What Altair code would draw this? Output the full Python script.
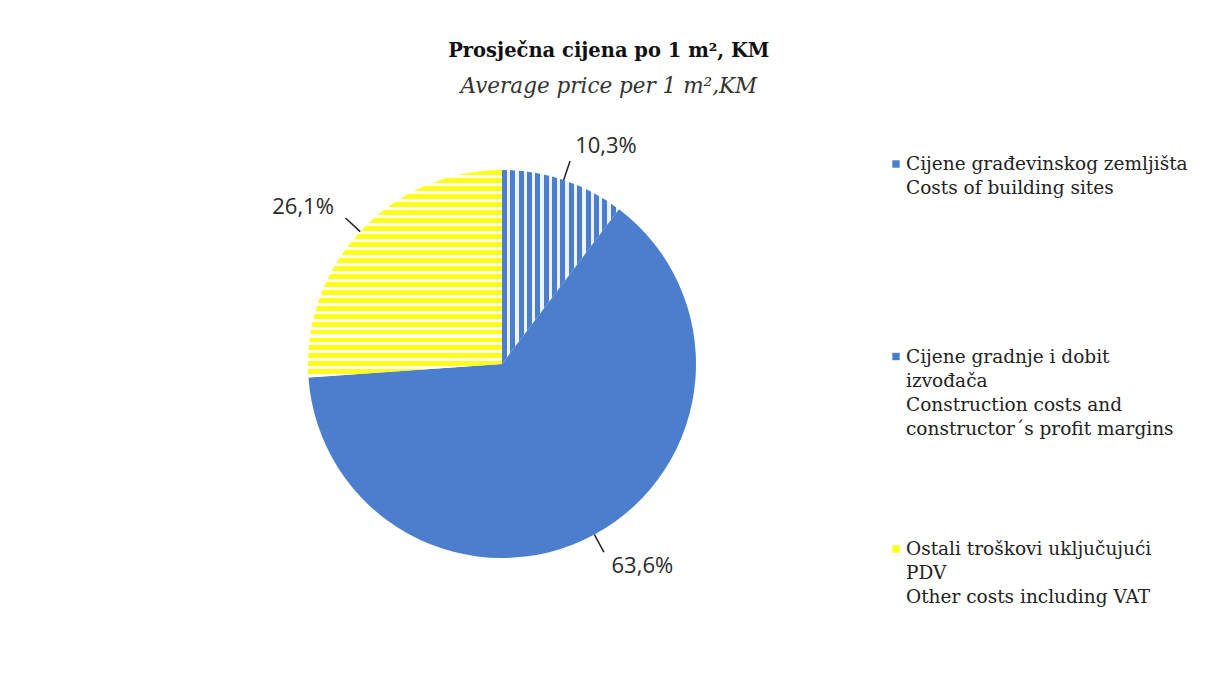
import altair as alt
import pandas as pd

# ---- data ----
categories = [
    "Cijene građevinskog zemljišta",
    "Cijene gradnje i dobit izvođača",
    "Ostali troškovi uključujući PDV",
]
legend_labels = [
    "Cijene građevinskog zemljišta\nCosts of building sites",
    "Cijene gradnje i dobit\nizvođača\nConstruction costs and\nconstructor´s profit margins",
    "Ostali troškovi uključujući\nPDV\nOther costs including VAT",
]
shares = [10.3, 63.6, 26.1]
share_labels = ["10,3%", "63,6%", "26,1%"]

df = pd.DataFrame({
    "idx": list(range(len(categories))),
    "cat": categories,
    "value": shares,
    "label": share_labels,
    "legend": legend_labels,
})

BLUE = "#4b7fcd"
YELLOW = "#ffff1a"


def stripes(c1, c2, n, frac, vertical):
    stops = []
    for i in range(n):
        a = i / n
        b = (i + frac) / n
        c = (i + 1) / n
        stops += [
            alt.GradientStop(offset=a, color=c1),
            alt.GradientStop(offset=b, color=c1),
            alt.GradientStop(offset=b, color=c2),
            alt.GradientStop(offset=c, color=c2),
        ]
    if vertical:
        return alt.LinearGradient(gradient="linear", stops=stops, x1=0, y1=0, x2=0, y2=1)
    return alt.LinearGradient(gradient="linear", stops=stops, x1=0, y1=0, x2=1, y2=0)


fills = [
    stripes(BLUE, "#eef3fb", 14, 0.6, False),
    BLUE,
    stripes(YELLOW, "#fffff2", 26, 0.62, True),
]

theta_scale = alt.Scale(domain=[0, 100])

base = alt.Chart(df).transform_window(
    cum="sum(value)", sort=[alt.SortField("idx")], frame=[None, 0]
).transform_calculate(
    start="datum.cum - datum.value",
    mid="datum.cum - datum.value / 2",
)

slices = [
    base.transform_filter(f"datum.idx == {i}")
    .mark_arc(outerRadius=194, fill=f)
    .encode(
        theta=alt.Theta("start:Q", scale=theta_scale, stack=None),
        theta2=alt.Theta2("cum:Q"),
    )
    for i, f in enumerate(fills)
]

leaders = base.mark_arc(
    radius=214, radius2=194, stroke="#222222", strokeWidth=1.5, fillOpacity=0
).encode(
    theta=alt.Theta("mid:Q", scale=theta_scale, stack=None),
    theta2=alt.Theta2("mid:Q"),
)

pct_text = base.mark_text(
    radius=230,
    font="Open Sans",
    fontSize=22,
    color="#2a2a2a",
    baseline="middle",
    align=alt.expr("datum.mid < 50 ? 'left' : 'right'"),
).encode(
    theta=alt.Theta("mid:Q", scale=theta_scale, stack=None),
    text="label:N",
)

ypos = alt.Y(
    "cat:N",
    scale=alt.Scale(type="point", domain=categories, range=[63, 448], padding=0),
    axis=None,
)

legend_sq = alt.Chart(df).mark_square(size=55, opacity=1).encode(
    x=alt.value(882),
    y=ypos,
    color=alt.Color(
        "cat:N",
        scale=alt.Scale(domain=categories, range=[BLUE, BLUE, YELLOW]),
        legend=None,
    ),
)

legend_text = alt.Chart(df).mark_text(
    align="left",
    baseline="alphabetic",
    dy=6,
    lineBreak="\n",
    font="DejaVu Serif",
    fontSize=18.5,
    lineHeight=24,
    color="#222222",
).encode(
    x=alt.value(892),
    y=ypos,
    text="legend:N",
)

chart = alt.layer(*slices, leaders, pct_text, legend_sq, legend_text).properties(
    width=976,
    height=526,
    padding={"left": 6, "top": 33, "right": 5, "bottom": 5},
    title=alt.TitleParams(
        text="Prosječna cijena po 1 m², KM",
        subtitle="Average price per 1 m²,KM",
        font="DejaVu Serif",
        fontSize=19.5,
        fontWeight="bold",
        color="#111111",
        subtitleFont="DejaVu Serif",
        subtitleFontSize=21.5,
        subtitleFontStyle="italic",
        subtitleColor="#333333",
        subtitlePadding=14,
        anchor="middle",
        frame="bounds",
        offset=3,
        dx=8,
    ),
).configure_view(stroke=None)

chart.save("out.html", embed_options={"renderer": "svg", "actions": False})
